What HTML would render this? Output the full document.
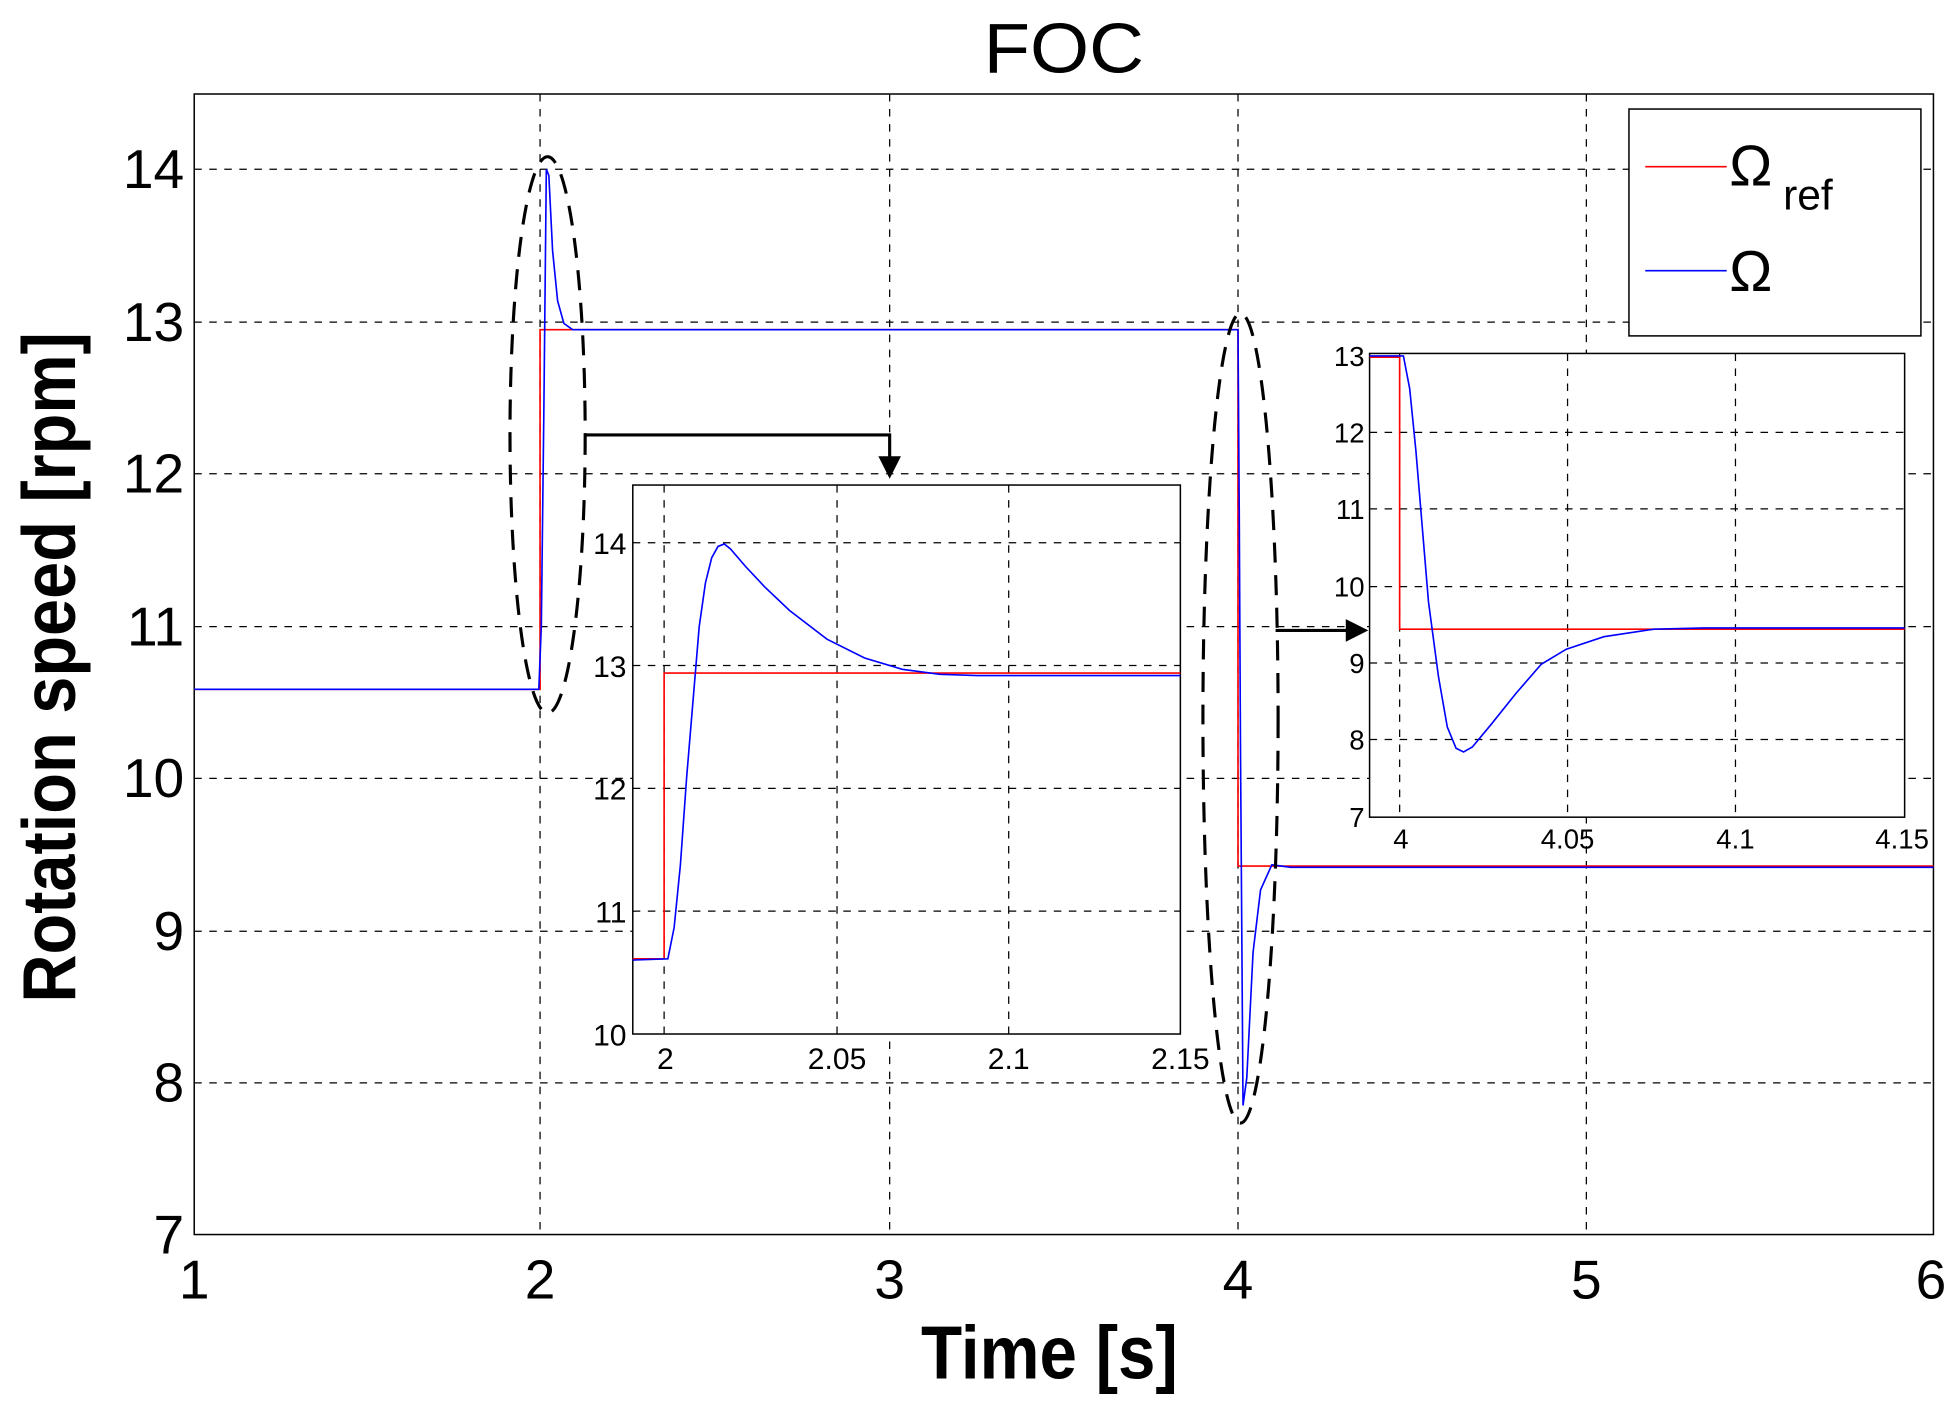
<!DOCTYPE html>
<html><head><meta charset="utf-8"><style>
html,body{margin:0;padding:0;background:#fff;}
svg{display:block;}
text{font-family:"Liberation Sans Narrow","Liberation Sans",sans-serif;fill:#000;}
</style></head><body>
<svg width="1956" height="1405" viewBox="0 0 1561 1121" preserveAspectRatio="none" xmlns="http://www.w3.org/2000/svg">
<rect width="1561" height="1121" fill="#fff"/>
<g stroke="#000" stroke-width="1" stroke-dasharray="6,6" fill="none">
<line x1="431" y1="75" x2="431" y2="985"/><line x1="710" y1="75" x2="710" y2="985"/>
<line x1="988" y1="75" x2="988" y2="985"/><line x1="1266" y1="75" x2="1266" y2="985"/>
<line x1="155" y1="135" x2="1543" y2="135"/><line x1="155" y1="257" x2="1543" y2="257"/>
<line x1="155" y1="378" x2="1543" y2="378"/><line x1="155" y1="500" x2="1543" y2="500"/>
<line x1="155" y1="621" x2="1543" y2="621"/><line x1="155" y1="743" x2="1543" y2="743"/>
<line x1="155" y1="864" x2="1543" y2="864"/>
</g>
<rect x="155" y="75" width="1388" height="910" fill="none" stroke="#000" stroke-width="1.2"/>
<polyline fill="none" stroke="#f00" stroke-width="1.3" points="155,550 431,550 431,263 988,263 988,691 1543,691"/>
<polyline fill="none" stroke="#00f" stroke-width="1.3" points="155,550 300,550 430,550 432,500 434,330 436,135 438,140 441,200 445,240 450,258 457,263 988,263 989,410 990,600 992,882 995,860 1000,760 1006,710 1015,690 1030,692 1543,692"/>
<g fill="none" stroke="#000" stroke-width="2.5" stroke-dasharray="16,10">
<ellipse cx="437" cy="347" rx="30" ry="222"/>
<ellipse cx="990" cy="573" rx="30" ry="323"/>
</g>
<g stroke="#000" stroke-width="2.5" fill="none">
<polyline points="467,347 710,347 710,368"/>
<line x1="1018" y1="503" x2="1078" y2="503"/>
</g>
<polygon points="701,364 719,364 710,382" fill="#000"/>
<polygon points="1074,494 1074,512 1092,503" fill="#000"/>
<rect x="505" y="387" width="437" height="438" fill="#fff"/>
<g stroke="#000" stroke-width="1" stroke-dasharray="6,6" fill="none">
<line x1="530" y1="387" x2="530" y2="825"/><line x1="668" y1="387" x2="668" y2="825"/><line x1="805" y1="387" x2="805" y2="825"/>
<line x1="505" y1="433" x2="942" y2="433"/><line x1="505" y1="531" x2="942" y2="531"/>
<line x1="505" y1="629" x2="942" y2="629"/><line x1="505" y1="727" x2="942" y2="727"/>
</g>
<rect x="505" y="387" width="437" height="438" fill="none" stroke="#000" stroke-width="1.2"/>
<polyline fill="none" stroke="#f00" stroke-width="1.3" points="505,765 530,765 530,537 942,537"/>
<polyline fill="none" stroke="#00f" stroke-width="1.3" points="505,766 533,765 538,740 543,690 548,620 553,560 558,500 563,465 568,445 573,436 578,434 583,438 595,452 610,468 630,487 660,510 690,525 720,534 750,538 780,539 942,539"/>
<g font-size="24" text-anchor="end">
<text x="500" y="442">14</text><text x="500" y="540">13</text><text x="500" y="638">12</text><text x="500" y="736">11</text><text x="500" y="834">10</text>
</g>
<g font-size="24" text-anchor="middle">
<text x="531" y="853">2</text><text x="668" y="853">2.05</text><text x="805" y="853">2.1</text><text x="942" y="853">2.15</text>
</g>
<rect x="1093" y="282" width="427" height="370" fill="#fff"/>
<g stroke="#000" stroke-width="1" stroke-dasharray="6,6" fill="none">
<line x1="1117" y1="282" x2="1117" y2="652"/><line x1="1251" y1="282" x2="1251" y2="652"/><line x1="1385" y1="282" x2="1385" y2="652"/>
<line x1="1093" y1="345" x2="1520" y2="345"/><line x1="1093" y1="406" x2="1520" y2="406"/>
<line x1="1093" y1="468" x2="1520" y2="468"/><line x1="1093" y1="529" x2="1520" y2="529"/><line x1="1093" y1="590" x2="1520" y2="590"/>
</g>
<rect x="1093" y="282" width="427" height="370" fill="none" stroke="#000" stroke-width="1.2"/>
<polyline fill="none" stroke="#f00" stroke-width="1.3" points="1093,285 1117,285 1117,502 1520,502"/>
<polyline fill="none" stroke="#00f" stroke-width="1.3" points="1093,284 1120,284 1125,310 1130,360 1135,420 1140,480 1148,540 1155,580 1162,597 1168,600 1175,596 1190,578 1210,553 1230,530 1250,518 1280,508 1320,502 1360,501 1520,501"/>
<g font-size="22" text-anchor="end">
<text x="1089" y="292">13</text><text x="1089" y="353">12</text><text x="1089" y="414">11</text><text x="1089" y="476">10</text><text x="1089" y="537">9</text><text x="1089" y="598">8</text><text x="1089" y="660">7</text>
</g>
<g font-size="22" text-anchor="middle">
<text x="1118" y="677">4</text><text x="1251" y="677">4.05</text><text x="1385" y="677">4.1</text><text x="1518" y="677">4.15</text>
</g>
<rect x="1300" y="87" width="233" height="181" fill="#fff" stroke="#000" stroke-width="1.2"/>
<line x1="1313" y1="133" x2="1378" y2="133" stroke="#f00" stroke-width="1.3"/>
<line x1="1313" y1="216" x2="1378" y2="216" stroke="#00f" stroke-width="1.3"/>
<text x="1380" y="148" font-size="46" font-family="Liberation Sans, sans-serif">Ω</text>
<text x="1423" y="167" font-size="34" font-family="Liberation Sans, sans-serif">ref</text>
<text x="1380" y="232" font-size="46" font-family="Liberation Sans, sans-serif">Ω</text>
<g font-size="44" text-anchor="end">
<text x="147" y="150">14</text><text x="147" y="272">13</text><text x="147" y="393">12</text><text x="147" y="515">11</text>
<text x="147" y="636">10</text><text x="147" y="758">9</text><text x="147" y="879">8</text><text x="147" y="1000">7</text>
</g>
<g font-size="44" text-anchor="middle">
<text x="155" y="1036">1</text><text x="431" y="1036">2</text><text x="710" y="1036">3</text>
<text x="988" y="1036">4</text><text x="1266" y="1036">5</text><text x="1541" y="1036">6</text>
</g>
<text x="785" y="58" font-size="56" textLength="128" lengthAdjust="spacingAndGlyphs">FOC</text>
<text x="735" y="1100" font-size="60" font-weight="bold" textLength="205" lengthAdjust="spacingAndGlyphs">Time [s]</text>
<text transform="translate(60,800) rotate(-90)" font-size="60" font-weight="bold" textLength="535" lengthAdjust="spacingAndGlyphs">Rotation speed [rpm]</text>
</svg>
</body></html>
